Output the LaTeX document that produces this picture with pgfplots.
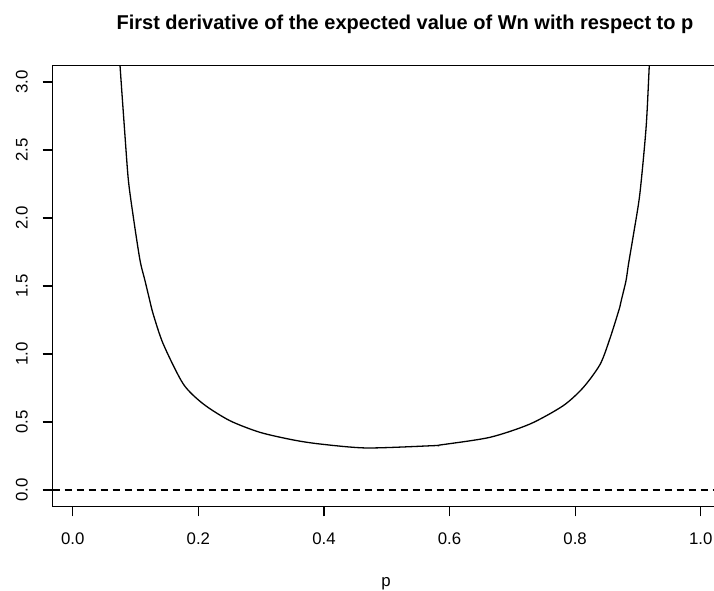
\documentclass[border=0pt]{standalone}
\usepackage{pgfplots}
\pgfplotsset{compat=1.18}
\usepackage{fontspec}
\setmainfont{Liberation Sans}

\begin{document}
\begin{tikzpicture}
\begin{axis}[
    at={(52.7pt,-506.3pt)}, anchor=south west,
    scale only axis,
    width=670pt, height=440.6pt,
    xmin=-0.032, xmax=1.035,
    ymin=-0.12, ymax=3.12,
    axis line style={line width=1.2pt},
    tick style={line width=1.1pt, black},
    tick align=outside,
    major tick length=10pt,
    xtick pos=lower, ytick pos=left,
    xtick={0,0.2,0.4,0.6,0.8,1.0},
    xticklabels={0.0,0.2,0.4,0.6,0.8,1.0},
    ytick={0,0.5,1,1.5,2,2.5,3},
    yticklabels={0.0,0.5,1.0,1.5,2.0,2.5,3.0},
    /pgf/number format/assume math mode=true,
    ticklabel style={font=\fontsize{16.8}{18}\selectfont},
    xticklabel style={anchor=base, yshift=-28pt},
    yticklabel style={xshift=-15pt, rotate=90, anchor=base},
    clip=true,
]
% first derivative of E[Wn] in p, read off point by point
\addplot[black, line width=1.3pt, smooth, tension=0.45] coordinates {
    (0.0700,3.500) (0.0753,3.115) (0.0833,2.593) (0.0886,2.274)
    (0.0965,2.004) (0.1070,1.690) (0.1150,1.539) (0.1220,1.404)
    (0.1280,1.294) (0.1440,1.074) (0.1760,0.779) (0.2080,0.632)
    (0.2500,0.510) (0.2980,0.424) (0.3510,0.368) (0.3940,0.338)
    (0.4680,0.309) (0.5740,0.326) (0.5850,0.331) (0.6640,0.387)
    (0.7280,0.485) (0.7810,0.620) (0.8130,0.754) (0.8400,0.926)
    (0.8560,1.122) (0.8710,1.343) (0.8740,1.404) (0.8810,1.539)
    (0.8850,1.662) (0.8930,1.882) (0.9030,2.176) (0.9130,2.666)
    (0.9180,3.115) (0.9220,3.500)
};
% reference line at zero
\addplot[black, line width=1.1pt, dash pattern=on 7pt off 5pt]
    coordinates {(-0.032,0) (1.035,0)};
\end{axis}
\node[anchor=base, font=\bfseries\fontsize{20}{22}\selectfont]
    at (405pt,-29pt) {First derivative of the expected value of Wn with respect to p};
\node[anchor=base, font=\fontsize{16.8}{18}\selectfont] at (386pt,-586pt) {p};
\pgfresetboundingbox
\useasboundingbox (0,0) rectangle (714pt,-590pt);
\end{tikzpicture}
\end{document}
